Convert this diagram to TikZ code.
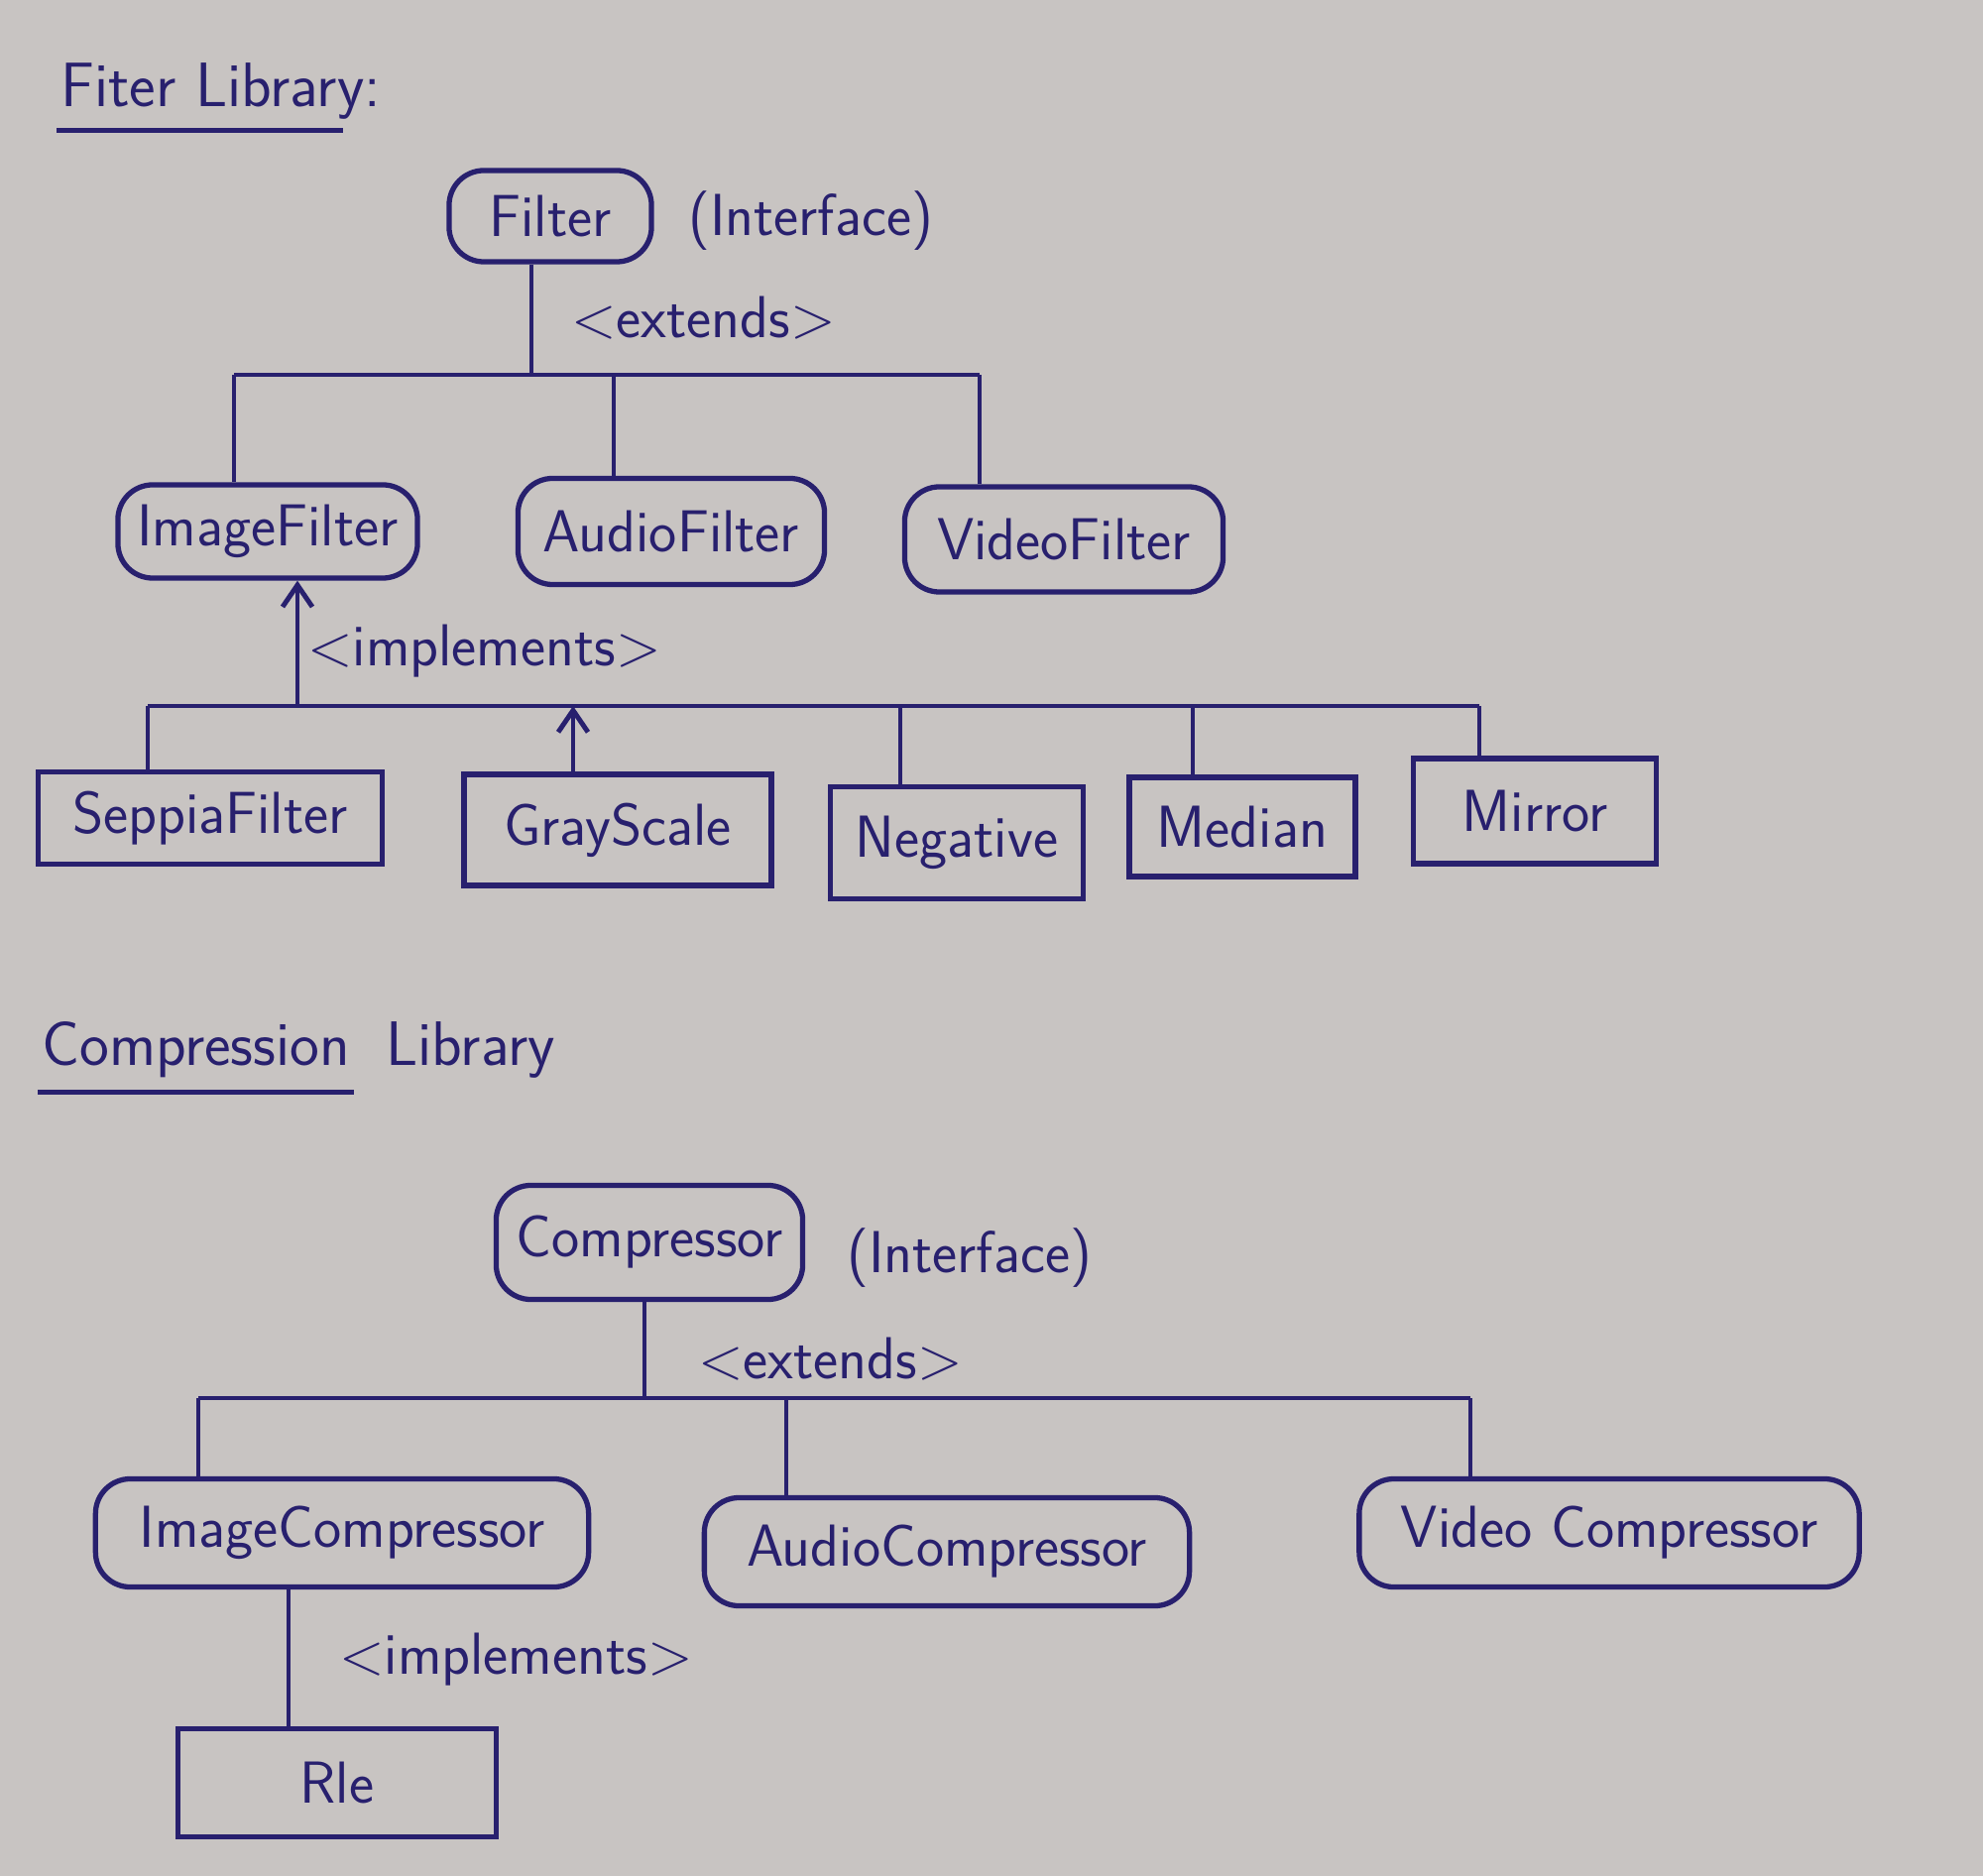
\documentclass[tikz,border=0pt]{standalone}
\usetikzlibrary{arrows.meta,positioning}
\definecolor{ink}{RGB}{40,32,110}
\definecolor{paper}{RGB}{200,196,194}
\begin{document}
\begin{tikzpicture}[
  x=0.01cm, y=-0.01cm,
  rbox/.style={draw=ink, line width=1.5pt, rounded corners=0.35cm, inner sep=0pt,
    text=ink, font=\sffamily\fontsize{17}{20}\selectfont},
  sbox/.style={draw=ink, line width=1.5pt, inner sep=0pt,
    text=ink, font=\sffamily\fontsize{17}{20}\selectfont},
  lbl/.style={text=ink, inner sep=1pt, font=\sffamily\fontsize{17}{20}\selectfont},
  ttl/.style={text=ink, inner sep=1pt, font=\sffamily\fontsize{18}{21}\selectfont},
  e/.style={draw=ink, line width=1.4pt},
  arr/.style={e, -{Straight Barb[length=2.2mm, width=3mm]}}
]
\fill[paper] (0,0) rectangle (2000,1892);
\useasboundingbox (0,0) rectangle (2000,1892);

% filter library
\node[ttl, anchor=west] (ftitle) at (57,92) {Fiter Library:};
\draw[e] ([yshift=-2pt]ftitle.south west) -- ([yshift=-2pt,xshift=-12pt]ftitle.south east);

\node[rbox, minimum width=2.04cm, minimum height=0.92cm] (filter) at (555,218) {Filter};
\node[lbl, anchor=west] (fiface) at (690,223) {(Interface)};

\node[rbox, minimum width=3.02cm, minimum height=0.94cm] (imgf) at (270,536) {ImageFilter};
\node[rbox, minimum width=3.09cm, minimum height=1.07cm] (audf) at (677,536) {AudioFilter};
\node[rbox, minimum width=3.21cm, minimum height=1.06cm] (vidf) at (1073,544) {VideoFilter};

\coordinate (fbL) at (236,378);
\coordinate (fbM) at (536,378);
\coordinate (fbA) at (619,378);
\coordinate (fbR) at (988,378);
\draw[e] (filter.south -| fbM) -- (fbM);
\node[lbl, anchor=west] (fext) at (572,321) {\textless extends\textgreater};
\draw[e] (fbL) -- (fbR);
\draw[e] (fbL) -- (fbL |- imgf.north);
\draw[e] (fbA) -- (fbA |- audf.north);
\draw[e] (fbR) -- (fbR |- vidf.north);

\node[sbox, minimum width=3.47cm, minimum height=0.93cm] (sepia) at (212,825) {SeppiaFilter};
\node[sbox, minimum width=3.10cm, minimum height=1.12cm] (gray) at (623,837) {GrayScale};
\node[sbox, minimum width=2.55cm, minimum height=1.13cm] (neg) at (965,850) {Negative};
\node[sbox, minimum width=2.28cm, minimum height=1.00cm] (median) at (1253,834) {Median};
\node[sbox, minimum width=2.45cm, minimum height=1.06cm] (mirror) at (1548,818) {Mirror};

\coordinate (ibL) at (149,712);
\coordinate (ibT) at (300,712);
\coordinate (ibG) at (578,712);
\coordinate (ibN) at (908,712);
\coordinate (ibM) at (1203,712);
\coordinate (ibR) at (1492,712);
\draw[e] (ibL) -- (ibR);
\draw[arr] (ibT) -- (ibT |- imgf.south);
\node[lbl, anchor=west] (fimpl) at (306,657) {\textless implements\textgreater};
\draw[e] (ibL) -- (ibL |- sepia.north);
\draw[arr] (ibG |- gray.north) -- (ibG);
\draw[e] (ibN) -- (ibN |- neg.north);
\draw[e] (ibM) -- (ibM |- median.north);
\draw[e] (ibR) -- (ibR |- mirror.north);

% compression library
\node[ttl, anchor=west] (ctitle) at (38,1059) {Compression};
\node[ttl, right=8pt of ctitle] (ctitleb) {Library};
\draw[e] ([yshift=-3pt]ctitle.south west) -- ([yshift=-3pt]ctitle.south east);

\node[rbox, minimum width=3.09cm, minimum height=1.15cm] (comp) at (655,1253) {Compressor};
\node[lbl, anchor=west] (ciface) at (850,1269) {(Interface)};

\node[rbox, minimum width=4.97cm, minimum height=1.09cm] (imgc) at (345,1546) {ImageCompressor};
\node[rbox, minimum width=4.89cm, minimum height=1.09cm] (audc) at (955,1565) {AudioCompressor};
\node[rbox, minimum width=5.04cm, minimum height=1.09cm] (vidc) at (1623,1546) {Video Compressor};

\coordinate (cbL) at (200,1410);
\coordinate (cbM) at (650,1410);
\coordinate (cbA) at (793,1410);
\coordinate (cbR) at (1483,1410);
\draw[e] (comp.south -| cbM) -- (cbM);
\node[lbl, anchor=west] (cext) at (700,1371) {\textless extends\textgreater};
\draw[e] (cbL) -- (cbR);
\draw[e] (cbL) -- (cbL |- imgc.north);
\draw[e] (cbA) -- (cbA |- audc.north);
\draw[e] (cbR) -- (cbR |- vidc.north);

\node[sbox, minimum width=3.21cm, minimum height=1.09cm] (rle) at (340,1798) {Rle};
\coordinate (rT) at (291,1700);
\draw[e] (imgc.south -| rT) -- (rle.north -| rT);
\node[lbl, anchor=west] (cimpl) at (338,1674) {\textless implements\textgreater};
\end{tikzpicture}
\end{document}
